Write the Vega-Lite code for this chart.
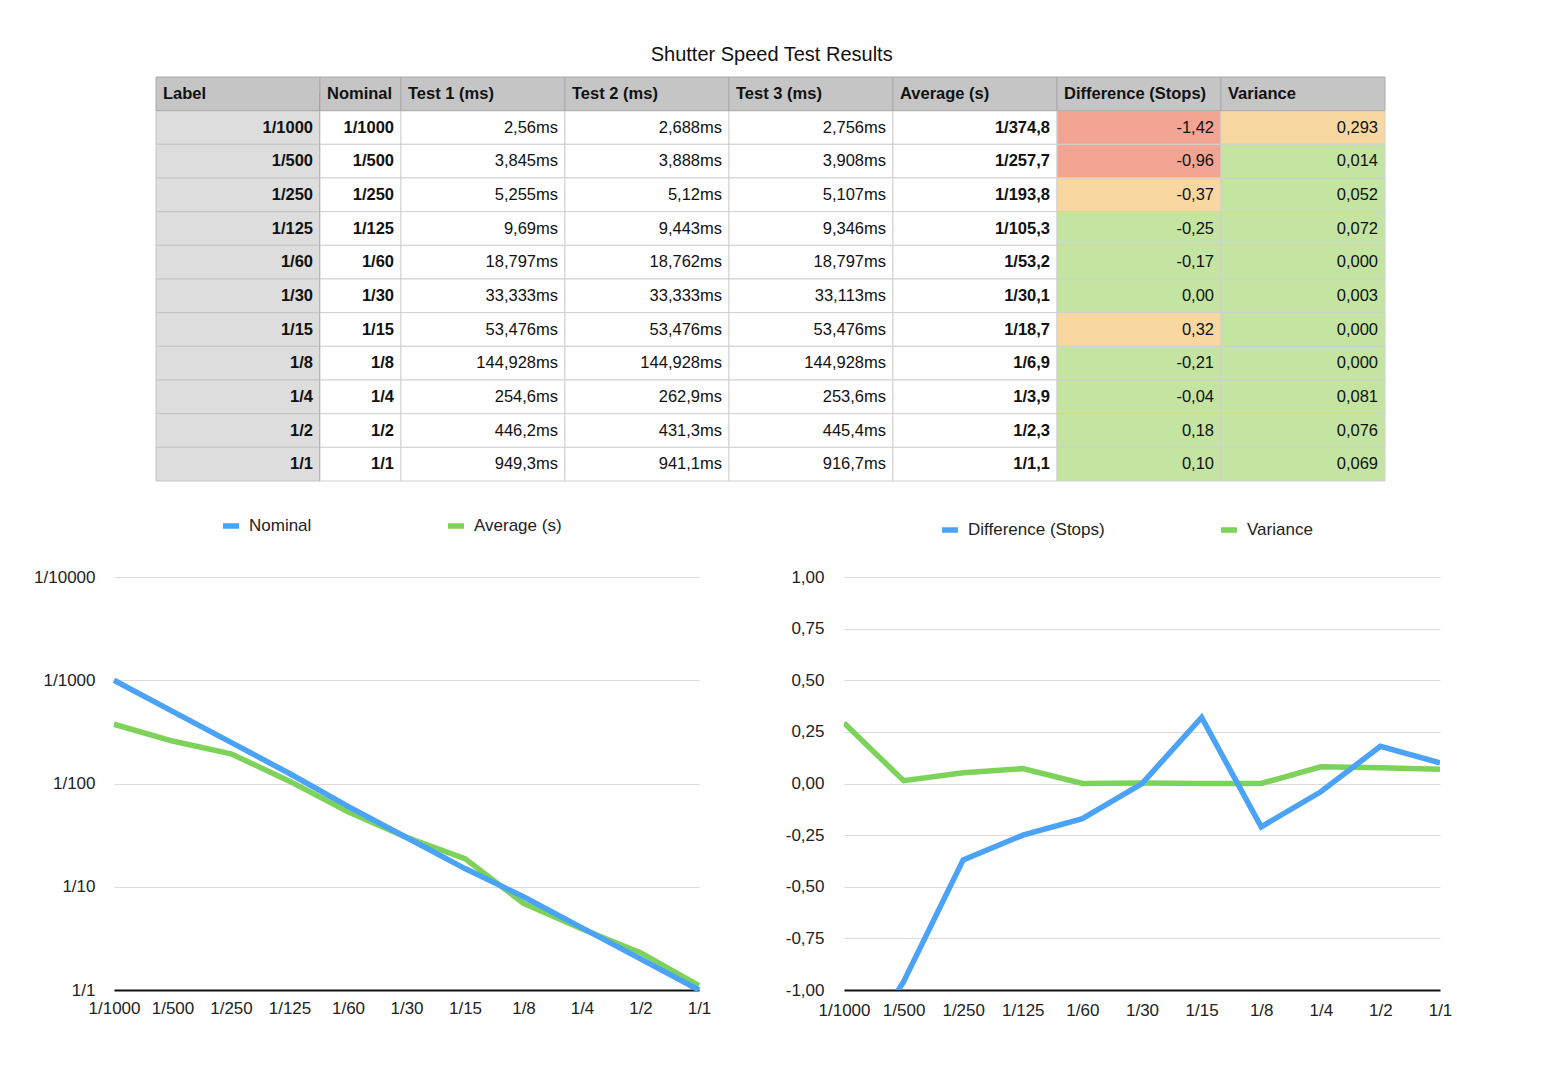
{
  "$schema": "https://vega.github.io/schema/vega-lite/v6.json",
  "padding": {"left": 33, "top": 44, "right": 20, "bottom": 20},
  "background": "#ffffff",
  "title": {"text": "Shutter Speed Test Results", "fontSize": 20, "fontWeight": "normal", "font": "Liberation Sans", "color": "#111111", "anchor": "middle", "dx": 29, "offset": 12},
  "datasets": {
    "shutter": [
      {"label": "1/1000", "nominal": 1000, "t1": 2.56, "t2": 2.688, "t3": 2.756, "avg": 374.8, "diff": -1.42, "variance": 0.293},
      {"label": "1/500", "nominal": 500, "t1": 3.845, "t2": 3.888, "t3": 3.908, "avg": 257.7, "diff": -0.96, "variance": 0.014},
      {"label": "1/250", "nominal": 250, "t1": 5.255, "t2": 5.12, "t3": 5.107, "avg": 193.8, "diff": -0.37, "variance": 0.052},
      {"label": "1/125", "nominal": 125, "t1": 9.69, "t2": 9.443, "t3": 9.346, "avg": 105.3, "diff": -0.25, "variance": 0.072},
      {"label": "1/60", "nominal": 60, "t1": 18.797, "t2": 18.762, "t3": 18.797, "avg": 53.2, "diff": -0.17, "variance": 0.0},
      {"label": "1/30", "nominal": 30, "t1": 33.333, "t2": 33.333, "t3": 33.113, "avg": 30.1, "diff": 0.0, "variance": 0.003},
      {"label": "1/15", "nominal": 15, "t1": 53.476, "t2": 53.476, "t3": 53.476, "avg": 18.7, "diff": 0.32, "variance": 0.0},
      {"label": "1/8", "nominal": 8, "t1": 144.928, "t2": 144.928, "t3": 144.928, "avg": 6.9, "diff": -0.21, "variance": 0.0},
      {"label": "1/4", "nominal": 4, "t1": 254.6, "t2": 262.9, "t3": 253.6, "avg": 3.9, "diff": -0.04, "variance": 0.081},
      {"label": "1/2", "nominal": 2, "t1": 446.2, "t2": 431.3, "t3": 445.4, "avg": 2.3, "diff": 0.18, "variance": 0.076},
      {"label": "1/1", "nominal": 1, "t1": 949.3, "t2": 941.1, "t3": 916.7, "avg": 1.1, "diff": 0.1, "variance": 0.069}
    ]
  },
  "data": {"name": "shutter"},
  "spacing": 33,
  "resolve": {"scale": {"color": "independent"}, "legend": {"color": "independent"}},
  "vconcat": [
    {
      "bounds": "flush",
      "spacing": 0,
      "hconcat": [
        {"width": 42, "height": 404, "data": {"values": []}, "mark": "point"},
        {
          "width": 164, "height": 404,
          "transform": [
            {"calculate": "datum.label", "as": "Label"},
            {"fold": ["Label"], "as": ["col", "txt"]}
          ],
          "encoding": {
            "y": {"field": "label", "type": "nominal", "scale": {"type": "band", "domain": ["hdr", "1/1000", "1/500", "1/250", "1/125", "1/60", "1/30", "1/15", "1/8", "1/4", "1/2", "1/1"], "paddingInner": 0, "paddingOuter": 0}, "axis": null},
            "x": {"field": "col", "type": "nominal", "scale": {"type": "band", "domain": ["Label"], "paddingInner": 0, "paddingOuter": 0}, "axis": null}
          },
          "layer": [
            {"mark": {"type": "rect", "stroke": "#c4c4c4", "strokeWidth": 1},
             "encoding": {"fill": {"condition": [
               {"test": "datum.col == 'Label'", "value": "#dddddd"},
               {"test": "datum.col == 'Difference (Stops)' && abs(datum.diff) > 0.5", "value": "#f3a593"},
               {"test": "datum.col == 'Difference (Stops)' && abs(datum.diff) > 0.3", "value": "#f8d8a0"},
               {"test": "datum.col == 'Difference (Stops)'", "value": "#c4e4a2"},
               {"test": "datum.col == 'Variance' && datum.variance > 0.1", "value": "#f8d8a0"},
               {"test": "datum.col == 'Variance'", "value": "#c4e4a2"}
             ], "value": "#ffffff"}}},
            {"transform": [{"filter": "indexof(['Label','Nominal','Average (s)'], datum.col) >= 0"}],
             "mark": {"type": "text", "align": "right", "dx": -7, "fontWeight": "bold"},
             "encoding": {"x": {"field": "col", "type": "nominal", "bandPosition": 1, "axis": null}, "text": {"field": "txt"}}},
            {"transform": [{"filter": "indexof(['Label','Nominal','Average (s)'], datum.col) < 0"}],
             "mark": {"type": "text", "align": "right", "dx": -7},
             "encoding": {"x": {"field": "col", "type": "nominal", "bandPosition": 1, "axis": null}, "text": {"field": "txt"}}},
            {"transform": [{"aggregate": [{"op": "count", "as": "n"}], "groupby": ["col"]}],
             "mark": {"type": "rect", "fill": "#c4c5c4", "stroke": "#ababab", "strokeWidth": 1},
             "encoding": {"y": {"datum": "hdr", "axis": null}}},
            {"transform": [{"aggregate": [{"op": "count", "as": "n"}], "groupby": ["col"]}],
             "mark": {"type": "text", "align": "left", "dx": 7, "fontWeight": "bold"},
             "encoding": {"y": {"datum": "hdr", "axis": null}, "x": {"field": "col", "type": "nominal", "bandPosition": 0, "axis": null}, "text": {"field": "col"}}},
            {"mark": {"type": "rule", "color": "#9c9c9c", "strokeWidth": 1.5},
             "encoding": {"x": {"field": "col", "type": "nominal", "bandPosition": 1, "axis": null}, "y": {"datum": "hdr", "axis": null}, "y2": {"datum": "1/1", "bandPosition": 1}}}
          ]
        },
        {
          "width": 81, "height": 404,
          "transform": [
            {"calculate": "'1/' + datum.nominal", "as": "Nominal"},
            {"fold": ["Nominal"], "as": ["col", "txt"]}
          ],
          "encoding": {
            "y": {"field": "label", "type": "nominal", "scale": {"type": "band", "domain": ["hdr", "1/1000", "1/500", "1/250", "1/125", "1/60", "1/30", "1/15", "1/8", "1/4", "1/2", "1/1"], "paddingInner": 0, "paddingOuter": 0}, "axis": null},
            "x": {"field": "col", "type": "nominal", "scale": {"type": "band", "domain": ["Nominal"], "paddingInner": 0, "paddingOuter": 0}, "axis": null}
          },
          "layer": [
            {"mark": {"type": "rect", "stroke": "#d0d0d0", "strokeWidth": 1},
             "encoding": {"fill": {"condition": [
               {"test": "datum.col == 'Label'", "value": "#dddddd"},
               {"test": "datum.col == 'Difference (Stops)' && abs(datum.diff) > 0.5", "value": "#f3a593"},
               {"test": "datum.col == 'Difference (Stops)' && abs(datum.diff) > 0.3", "value": "#f8d8a0"},
               {"test": "datum.col == 'Difference (Stops)'", "value": "#c4e4a2"},
               {"test": "datum.col == 'Variance' && datum.variance > 0.1", "value": "#f8d8a0"},
               {"test": "datum.col == 'Variance'", "value": "#c4e4a2"}
             ], "value": "#ffffff"}}},
            {"transform": [{"filter": "indexof(['Label','Nominal','Average (s)'], datum.col) >= 0"}],
             "mark": {"type": "text", "align": "right", "dx": -7, "fontWeight": "bold"},
             "encoding": {"x": {"field": "col", "type": "nominal", "bandPosition": 1, "axis": null}, "text": {"field": "txt"}}},
            {"transform": [{"filter": "indexof(['Label','Nominal','Average (s)'], datum.col) < 0"}],
             "mark": {"type": "text", "align": "right", "dx": -7},
             "encoding": {"x": {"field": "col", "type": "nominal", "bandPosition": 1, "axis": null}, "text": {"field": "txt"}}},
            {"transform": [{"aggregate": [{"op": "count", "as": "n"}], "groupby": ["col"]}],
             "mark": {"type": "rect", "fill": "#c4c5c4", "stroke": "#ababab", "strokeWidth": 1},
             "encoding": {"y": {"datum": "hdr", "axis": null}}},
            {"transform": [{"aggregate": [{"op": "count", "as": "n"}], "groupby": ["col"]}],
             "mark": {"type": "text", "align": "left", "dx": 7, "fontWeight": "bold"},
             "encoding": {"y": {"datum": "hdr", "axis": null}, "x": {"field": "col", "type": "nominal", "bandPosition": 0, "axis": null}, "text": {"field": "col"}}}
          ]
        },
        {
          "width": 984, "height": 404,
          "transform": [
            {"calculate": "replace(format(datum.t1, '~f'), '.', ',') + 'ms'", "as": "Test 1 (ms)"},
            {"calculate": "replace(format(datum.t2, '~f'), '.', ',') + 'ms'", "as": "Test 2 (ms)"},
            {"calculate": "replace(format(datum.t3, '~f'), '.', ',') + 'ms'", "as": "Test 3 (ms)"},
            {"calculate": "'1/' + replace(format(datum.avg, '.1f'), '.', ',')", "as": "Average (s)"},
            {"calculate": "replace(replace(format(datum.diff, '.2f'), '.', ','), '−', '-')", "as": "Difference (Stops)"},
            {"calculate": "replace(format(datum.variance, '.3f'), '.', ',')", "as": "Variance"},
            {"fold": ["Test 1 (ms)", "Test 2 (ms)", "Test 3 (ms)", "Average (s)", "Difference (Stops)", "Variance"], "as": ["col", "txt"]}
          ],
          "encoding": {
            "y": {"field": "label", "type": "nominal", "scale": {"type": "band", "domain": ["hdr", "1/1000", "1/500", "1/250", "1/125", "1/60", "1/30", "1/15", "1/8", "1/4", "1/2", "1/1"], "paddingInner": 0, "paddingOuter": 0}, "axis": null},
            "x": {"field": "col", "type": "nominal", "scale": {"type": "band", "domain": ["Test 1 (ms)", "Test 2 (ms)", "Test 3 (ms)", "Average (s)", "Difference (Stops)", "Variance"], "paddingInner": 0, "paddingOuter": 0}, "axis": null}
          },
          "layer": [
            {"mark": {"type": "rect", "stroke": "#d0d0d0", "strokeWidth": 1},
             "encoding": {"fill": {"condition": [
               {"test": "datum.col == 'Label'", "value": "#dddddd"},
               {"test": "datum.col == 'Difference (Stops)' && abs(datum.diff) > 0.5", "value": "#f3a593"},
               {"test": "datum.col == 'Difference (Stops)' && abs(datum.diff) > 0.3", "value": "#f8d8a0"},
               {"test": "datum.col == 'Difference (Stops)'", "value": "#c4e4a2"},
               {"test": "datum.col == 'Variance' && datum.variance > 0.1", "value": "#f8d8a0"},
               {"test": "datum.col == 'Variance'", "value": "#c4e4a2"}
             ], "value": "#ffffff"}}},
            {"transform": [{"filter": "indexof(['Label','Nominal','Average (s)'], datum.col) >= 0"}],
             "mark": {"type": "text", "align": "right", "dx": -7, "fontWeight": "bold"},
             "encoding": {"x": {"field": "col", "type": "nominal", "bandPosition": 1, "axis": null}, "text": {"field": "txt"}}},
            {"transform": [{"filter": "indexof(['Label','Nominal','Average (s)'], datum.col) < 0"}],
             "mark": {"type": "text", "align": "right", "dx": -7},
             "encoding": {"x": {"field": "col", "type": "nominal", "bandPosition": 1, "axis": null}, "text": {"field": "txt"}}},
            {"transform": [{"aggregate": [{"op": "count", "as": "n"}], "groupby": ["col"]}],
             "mark": {"type": "rect", "fill": "#c4c5c4", "stroke": "#ababab", "strokeWidth": 1},
             "encoding": {"y": {"datum": "hdr", "axis": null}}},
            {"transform": [{"aggregate": [{"op": "count", "as": "n"}], "groupby": ["col"]}],
             "mark": {"type": "text", "align": "left", "dx": 7, "fontWeight": "bold"},
             "encoding": {"y": {"datum": "hdr", "axis": null}, "x": {"field": "col", "type": "nominal", "bandPosition": 0, "axis": null}, "text": {"field": "col"}}}
          ]
        }
      ]
    },
    {
      "bounds": "flush",
      "spacing": 145,
      "resolve": {"scale": {"color": "independent"}, "legend": {"color": "independent"}},
      "hconcat": [
        {
          "width": 585, "height": 413,
          "encoding": {
            "x": {"field": "label", "type": "nominal", "scale": {"type": "point", "domain": ["1/1000", "1/500", "1/250", "1/125", "1/60", "1/30", "1/15", "1/8", "1/4", "1/2", "1/1"], "padding": 0},
                  "axis": {"labelAngle": 0, "labelPadding": 10, "domainColor": "#111111", "domainWidth": 2, "grid": false}}
          },
          "layer": [
            {"mark": {"type": "line"},
             "encoding": {
               "y": {"field": "avg", "type": "quantitative", "scale": {"type": "log", "domain": [1, 10000]},
                     "axis": {"values": [1, 10, 100, 1000, 10000], "labelExpr": "'1/' + datum.value", "domain": false, "grid": true, "labelPadding": 19}},
               "color": {"datum": "Average (s)", "scale": {"domain": ["Nominal", "Average (s)"], "range": ["#4aa3f7", "#7dd35a"]},
                         "legend": {"title": null, "orient": "none", "legendX": 106, "legendY": -62, "direction": "horizontal", "columnPadding": 125}}
             }},
            {"mark": {"type": "line"},
             "encoding": {
               "y": {"field": "nominal", "type": "quantitative"},
               "color": {"datum": "Nominal"}
             }}
          ]
        },
        {
          "width": 596, "height": 413,
          "encoding": {
            "x": {"field": "label", "type": "nominal", "scale": {"type": "point", "domain": ["1/1000", "1/500", "1/250", "1/125", "1/60", "1/30", "1/15", "1/8", "1/4", "1/2", "1/1"], "padding": 0},
                  "axis": {"labelAngle": 0, "labelPadding": 12, "domainColor": "#111111", "domainWidth": 2, "grid": false}}
          },
          "layer": [
            {"mark": {"type": "line", "clip": true},
             "encoding": {
               "y": {"field": "variance", "type": "quantitative", "scale": {"domain": [-1, 1], "nice": false},
                     "axis": {"values": [-1, -0.75, -0.5, -0.25, 0, 0.25, 0.5, 0.75, 1], "labelExpr": "replace(replace(format(datum.value, '.2f'), '.', ','), '−', '-')", "domain": false, "grid": true, "labelPadding": 20}},
               "color": {"datum": "Variance", "scale": {"domain": ["Difference (Stops)", "Variance"], "range": ["#4aa3f7", "#7dd35a"]},
                         "legend": {"title": null, "orient": "none", "legendX": 95, "legendY": -58, "direction": "horizontal", "columnPadding": 105}}
             }},
            {"mark": {"type": "line", "clip": true},
             "encoding": {
               "y": {"field": "diff", "type": "quantitative"},
               "color": {"datum": "Difference (Stops)"}
             }}
          ]
        }
      ]
    }
  ],
  "config": {
    "font": "Liberation Sans",
    "view": {"stroke": null},
    "text": {"font": "Liberation Sans", "fontSize": 16.5, "color": "#111111"},
    "line": {"strokeWidth": 5.5},
    "axis": {"labelFont": "Liberation Sans", "labelFontSize": 17, "labelColor": "#222222", "ticks": false, "title": null, "gridColor": "#dadada", "gridWidth": 1},
    "legend": {"labelFont": "Liberation Sans", "labelFontSize": 17, "labelColor": "#222222", "symbolType": "stroke", "symbolSize": 256, "symbolStrokeWidth": 3.5, "labelOffset": 7}
  }
}
